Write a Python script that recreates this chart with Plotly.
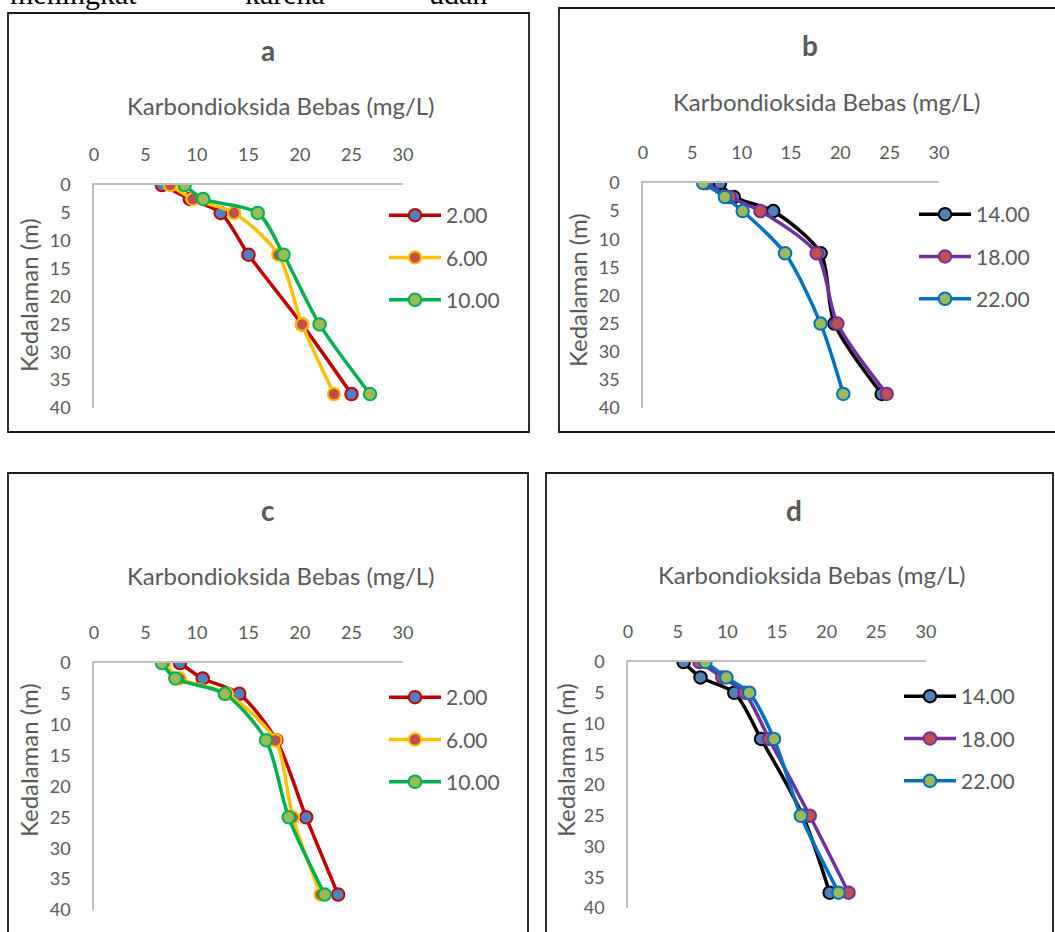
import plotly.graph_objects as go

W, H = 1055, 932

depth = [0, 2.5, 5, 12.5, 25, 37.5]

a_200 = [6.6, 9.3, 12.3, 15.0, 20.2, 25.0]
a_600 = [7.4, 9.6, 13.6, 17.9, 20.2, 23.3]
a_1000 = [8.8, 10.6, 15.9, 18.4, 21.9, 26.8]

b_1400 = [7.8, 9.2, 13.2, 18.0, 19.4, 24.2]
b_1800 = [6.4, 8.8, 11.9, 17.6, 19.7, 24.7]
b_2200 = [6.1, 8.3, 10.1, 14.4, 18.0, 20.3]

c_200 = [8.35, 10.55, 14.1, 17.7, 20.6, 23.7]
c_600 = [6.8, 8.3, 12.9, 17.6, 19.3, 22.0]
c_1000 = [6.6, 7.9, 12.7, 16.7, 18.9, 22.4]

d_1400 = [5.6, 7.3, 10.7, 13.4, 17.6, 20.3]
d_1800 = [7.2, 9.5, 11.75, 14.2, 18.3, 22.2]
d_2200 = [7.8, 9.9, 12.2, 14.7, 17.4, 21.2]

labels_ac = ["2.00", "6.00", "10.00"]
labels_bd = ["14.00", "18.00", "22.00"]
panel_letters = ["a", "b", "c", "d"]
x_title = "Karbondioksida Bebas (mg/L)"
y_title = "Kedalaman (m)"
top_words = ["meningkat", "karena", "udan"]

style_ac = [("#C00000", "#4F81BD"), ("#FFC000", "#C0504D"), ("#00B050", "#9BBB59")]
style_bd = [("#000000", "#4F81BD"), ("#7030A0", "#C0504D"), ("#0070C0", "#9BBB59")]

FONT = "Lato"
GRAY = "#595959"

panels = [
    dict(data=[a_200, a_600, a_1000], labels=labels_ac, style=style_ac,
         px=(94, 403), py=(185, 408), box=(8, 13, 529, 432),
         letter=(268, 50), xt=(281, 106), yt=(28, 295), leg=(384, 195)),
    dict(data=[b_1400, b_1800, b_2200], labels=labels_bd, style=style_bd,
         px=(643, 939), py=(183, 408), box=(559, 8, 1062, 432),
         letter=(810, 45), xt=(827, 102), yt=(578, 290), leg=(914, 194)),
    dict(data=[c_200, c_600, c_1000], labels=labels_ac, style=style_ac,
         px=(94, 403), py=(663, 910), box=(8, 473, 528, 940),
         letter=(268, 510), xt=(281, 575), yt=(28, 760), leg=(384, 677)),
    dict(data=[d_1400, d_1800, d_2200], labels=labels_bd, style=style_bd,
         px=(628, 926), py=(662, 908), box=(546, 473, 1053, 940),
         letter=(794, 510), xt=(812, 574), yt=(565, 760), leg=(899, 676)),
]

fig = go.Figure()
shapes = []
annotations = []
layout_axes = {}

for i, p in enumerate(panels):
    n = i + 1
    xa = "x" if n == 1 else f"x{n}"
    ya = "y" if n == 1 else f"y{n}"
    leg = "legend" if n == 1 else f"legend{n}"
    for k, (vals, lab, (lc, mc)) in enumerate(zip(p["data"], p["labels"], p["style"])):
        fig.add_trace(go.Scatter(
            x=vals, y=depth, mode="lines+markers", name=lab,
            line=dict(color=lc, width=3.5, shape="spline", smoothing=0.8),
            marker=dict(size=12.5, color=mc, line=dict(color=lc, width=2)),
            xaxis=xa, yaxis=ya, legend=leg, legendgroup=f"{n}-{k}",
            showlegend=True,
        ))
    xd = [p["px"][0] / W, p["px"][1] / W]
    yd = [1 - p["py"][1] / H, 1 - p["py"][0] / H]
    xkey = "xaxis" if n == 1 else f"xaxis{n}"
    ykey = "yaxis" if n == 1 else f"yaxis{n}"
    layout_axes[xkey] = dict(
        domain=xd, range=[0, 30], dtick=5, side="top", anchor=ya, automargin=False,
        showgrid=False, zeroline=False, showline=True, linecolor="#BFBFBF", linewidth=1.5,
        ticks="outside", ticklen=15, tickcolor="rgba(0,0,0,0)",
        tickfont=dict(family=FONT, size=18, color=GRAY), fixedrange=True,
    )
    layout_axes[ykey] = dict(
        domain=yd, range=[40, 0], dtick=5, anchor=xa, automargin=False,
        showgrid=False, zeroline=False, showline=True, linecolor="#BFBFBF", linewidth=1.5,
        ticks="outside", ticklen=18, tickcolor="rgba(0,0,0,0)",
        tickfont=dict(family=FONT, size=18, color=GRAY), fixedrange=True,
    )
    layout_axes[leg] = dict(
        x=p["leg"][0] / W, y=1 - p["leg"][1] / H, xanchor="left", yanchor="top",
        font=dict(family=FONT, size=21, color=GRAY), bgcolor="rgba(0,0,0,0)",
        tracegroupgap=12, itemwidth=52, traceorder="grouped",
    )
    bx0, by0, bx1, by1 = p["box"]
    shapes.append(dict(type="rect", xref="paper", yref="paper",
                       x0=bx0 / W, x1=bx1 / W, y0=1 - by1 / H, y1=1 - by0 / H,
                       line=dict(color="#1a1a1a", width=1.8), layer="below"))
    annotations.append(dict(text=f"<b>{panel_letters[i]}</b>", x=p["letter"][0] / W,
                            y=1 - p["letter"][1] / H, xref="paper", yref="paper",
                            xanchor="center", yanchor="middle",
                            showarrow=False, font=dict(family=FONT, size=28, color=GRAY)))
    annotations.append(dict(text=x_title, x=p["xt"][0] / W, y=1 - p["xt"][1] / H,
                            xref="paper", yref="paper", showarrow=False,
                            xanchor="center", yanchor="middle",
                            font=dict(family=FONT, size=24, color=GRAY)))
    annotations.append(dict(text=y_title, x=p["yt"][0] / W, y=1 - p["yt"][1] / H,
                            xref="paper", yref="paper", showarrow=False, textangle=-90,
                            xanchor="center", yanchor="middle",
                            font=dict(family=FONT, size=24, color=GRAY)))

# clipped line of body text above the figure
for word, xp in zip(top_words, [8, 243, 427]):
    annotations.append(dict(text=word, x=xp / W, y=1 + 6 / H, xref="paper", yref="paper",
                            xanchor="left", yanchor="middle", showarrow=False,
                            font=dict(family="Liberation Serif", size=30, color="black")))

fig.update_layout(
    width=W, height=H, margin=dict(l=0, r=0, t=0, b=0, autoexpand=False),
    paper_bgcolor="white", plot_bgcolor="white",
    shapes=shapes, annotations=annotations, **layout_axes,
)

fig.write_html("out.html")
